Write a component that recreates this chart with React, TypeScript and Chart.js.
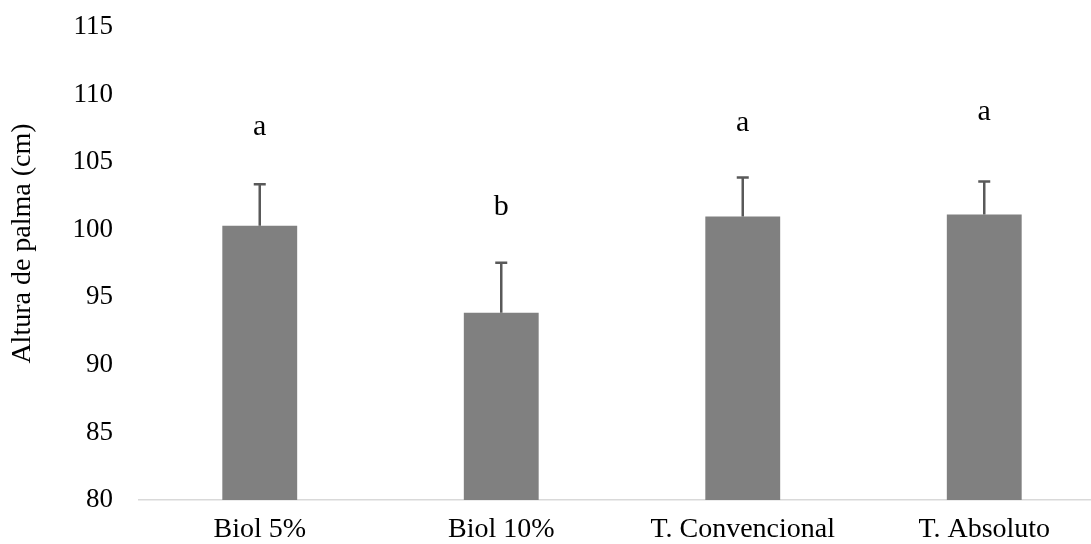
import React, { useEffect, useRef } from "react";
import { Chart, registerables } from "chart.js";

Chart.register(...registerables);

const categories = ["Biol 5%", "Biol 10%", "T. Convencional", "T. Absoluto"];
const means = [100.3, 93.85, 100.97, 101.12];
const errors = [3.07, 3.71, 2.89, 2.45];
const letters = ["a", "b", "a", "a"];
const letterPositions = [107.0, 101.1, 107.3, 108.1];
const yTitle = "Altura de palma (cm)";
const yMin = 80;
const yMax = 115;
const yStep = 5;

const FONT = "'Liberation Serif', 'Times New Roman', serif";

const errorBarPlugin = {
  id: "errorBarsAndLetters",
  afterDatasetsDraw(chart: any) {
    const { ctx } = chart;
    const y = chart.scales.y;
    const meta = chart.getDatasetMeta(0);
    ctx.save();
    ctx.strokeStyle = "#595959";
    ctx.lineWidth = 2.5;
    meta.data.forEach((bar: any, i: number) => {
      const x = bar.x;
      const yBase = y.getPixelForValue(means[i]);
      const yTop = y.getPixelForValue(means[i] + errors[i]);
      ctx.beginPath();
      ctx.moveTo(x, yBase);
      ctx.lineTo(x, yTop);
      ctx.moveTo(x - 6, yTop);
      ctx.lineTo(x + 6, yTop);
      ctx.stroke();
    });
    ctx.fillStyle = "#000";
    ctx.font = `30px ${FONT}`;
    ctx.textAlign = "center";
    ctx.textBaseline = "alphabetic";
    meta.data.forEach((bar: any, i: number) => {
      ctx.fillText(letters[i], bar.x, y.getPixelForValue(letterPositions[i]));
    });
    ctx.restore();
  },
  afterDraw(chart: any) {
    const { ctx } = chart;
    const y = chart.scales.y;
    ctx.save();
    ctx.fillStyle = "#000";
    ctx.font = `28px ${FONT}`;
    ctx.textAlign = "center";
    ctx.textBaseline = "middle";
    const cy = (y.top + y.bottom) / 2 - 20;
    ctx.translate(23, cy);
    ctx.rotate(-Math.PI / 2);
    ctx.fillText(yTitle, 0, 0);
    ctx.restore();
  },
};

export default function App() {
  const ref = useRef<HTMLCanvasElement | null>(null);

  useEffect(() => {
    if (!ref.current) return;
    const chart = new Chart(ref.current, {
      type: "bar",
      data: {
        labels: categories,
        datasets: [
          {
            data: means,
            backgroundColor: "#808080",
            borderWidth: 0,
            categoryPercentage: 1,
            barPercentage: 0.31,
          },
        ],
      },
      options: {
        responsive: false,
        animation: false,
        layout: { padding: { top: 27, right: 5, left: 0, bottom: 0 } },
        plugins: {
          legend: { display: false },
          tooltip: { enabled: false },
        },
        scales: {
          x: {
            grid: { display: false, drawTicks: false },
            border: { display: true, color: "#d9d9d9", width: 1.5 },
            ticks: {
              color: "#000",
              font: { family: FONT, size: 28 },
              padding: 13,
              maxRotation: 0,
              autoSkip: false,
            },
            afterFit: (scale: any) => {
              scale.height = 44;
              scale.paddingLeft = 0;
              scale.paddingRight = 0;
            },
          },
          y: {
            min: yMin,
            max: yMax,
            grid: { display: false, drawTicks: false },
            border: { display: false },
            ticks: {
              stepSize: yStep,
              color: "#000",
              font: { family: FONT, size: 27 },
              padding: 26,
            },
            title: { display: false },
            afterFit: (scale: any) => {
              scale.width = 139;
              scale.paddingTop = 0;
              scale.paddingBottom = 0;
            },
          },
        },
      },
      plugins: [errorBarPlugin],
    });
    return () => chart.destroy();
  }, []);

  return (
    <div
      style={{
        position: "fixed",
        left: 0,
        top: 0,
        width: 1091,
        height: 544,
        overflow: "hidden",
        background: "#fff",
      }}
    >
      <canvas ref={ref} width={1110} height={544} style={{ display: "block" }} />
    </div>
  );
}
